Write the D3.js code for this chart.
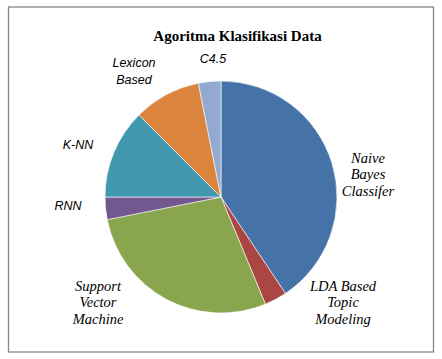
<!DOCTYPE html>
<html>
<head>
<meta charset="utf-8">
<script src="https://cdn.jsdelivr.net/npm/d3@7"></script>
<style>
  html, body { margin: 0; padding: 0; background: #fff; }
  svg { display: block; }
</style>
</head>
<body>
<svg id="chart" width="442" height="359"></svg>
<script>
// ---- data ----
const title = "Agoritma Klasifikasi Data";
const categories = ["Naive Bayes Classifer", "LDA Based Topic Modeling", "Support Vector Machine", "RNN", "K-NN", "Lexicon Based", "C4.5"];
const values = [13, 1, 9, 1, 4, 3, 1];
const colors = ["#4572A7", "#AA4643", "#89A54E", "#71588F", "#4198AF", "#DB843D", "#93A9CF"];

// ---- layout (label placement, styles) ----
const labelLines = [["Naive", "Bayes", "Classifer"], ["LDA Based", "Topic", "Modeling"], ["Support", "Vector", "Machine"], ["RNN"], ["K-NN"], ["Lexicon", "Based"], ["C4.5"]];
const labelStyle = ["serif", "serif", "serif", "sans", "sans", "sans", "sans"];
const labelPos = [[368, 163], [343, 291], [98, 291], [68, 210], [78, 149], [134, 67], [213, 63]];

const W = 442, H = 359;
const cx = 221, cy = 197, r = 116;

const svg = d3.select("#chart");

svg.append("rect")
  .attr("x", 8.5).attr("y", 7).attr("width", 425).attr("height", 345)
  .attr("fill", "#fff").attr("stroke", "#868686").attr("stroke-width", 1.3);

svg.append("text")
  .attr("x", 237.5).attr("y", 41)
  .attr("text-anchor", "middle")
  .attr("font-family", "'Liberation Serif', 'Times New Roman', serif")
  .attr("font-weight", "bold")
  .attr("font-size", "15px")
  .attr("fill", "#000")
  .text(title);

const data = categories.map((c, i) => ({ name: c, value: values[i], color: colors[i], lines: labelLines[i], style: labelStyle[i], pos: labelPos[i] }));

const pie = d3.pie().sort(null).value(d => d.value);
const arc = d3.arc().innerRadius(0).outerRadius(r);

const g = svg.append("g").attr("transform", `translate(${cx},${cy})`);
g.selectAll("path")
  .data(pie(data))
  .join("path")
  .attr("d", arc)
  .attr("fill", d => d.data.color)
  .attr("stroke", "#fff")
  .attr("stroke-width", 0.6);

const labels = svg.append("g");
data.forEach(d => {
  const serif = d.style === "serif";
  const t = labels.append("text")
    .attr("text-anchor", "middle")
    .attr("font-style", "italic")
    .attr("font-family", serif ? "'Liberation Serif', 'Times New Roman', serif" : "'Liberation Sans', Arial, sans-serif")
    .attr("font-size", serif ? "14.5px" : "12.5px")
    .attr("fill", "#000");
  const lh = serif ? 16.4 : 17;
  d.lines.forEach((line, j) => {
    t.append("tspan").attr("x", d.pos[0]).attr("y", d.pos[1] + j * lh).text(line);
  });
});
</script>
</body>
</html>
